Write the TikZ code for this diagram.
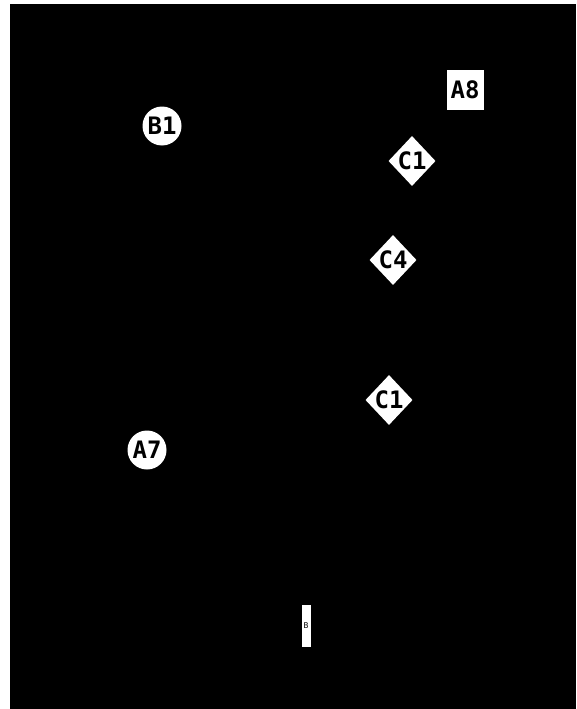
\documentclass[tikz,border=0pt]{standalone}
\usepackage{fontspec}
\newfontfamily\nodefont{DejaVu Sans Mono}
\usetikzlibrary{shapes.geometric}
\begin{document}
\begin{tikzpicture}[x=1pt,y=-1pt,
  lbl/.style={fill=white,text=black,font=\nodefont\bfseries\fontsize{24}{24}\selectfont,inner sep=0pt},
  circnode/.style={lbl,circle,minimum size=39pt},
  boxnode/.style={lbl,rectangle,minimum width=37pt,minimum height=40pt},
  dianode/.style={lbl,diamond,minimum width=46pt,minimum height=50pt},
  thinbox/.style={fill=white,text=black,rectangle,minimum width=9pt,minimum height=42pt,inner sep=0pt,font=\nodefont\fontsize{8}{8}\selectfont}]
\useasboundingbox (0,0) rectangle (576,709);
\fill[black] (10,4) rectangle (576,709);
\node[circnode] (b1) at (162,126) {B1};
\node[boxnode] (a8) at (465,90) {A8};
\node[dianode] (c1a) at (412,161) {C1};
\node[dianode] (c4) at (393,260) {C4};
\node[dianode] (c1b) at (389,400) {C1};
\node[circnode] (a7) at (147,450) {A7};
\node[thinbox] (b) at (306,626) {B};
\end{tikzpicture}
\end{document}
